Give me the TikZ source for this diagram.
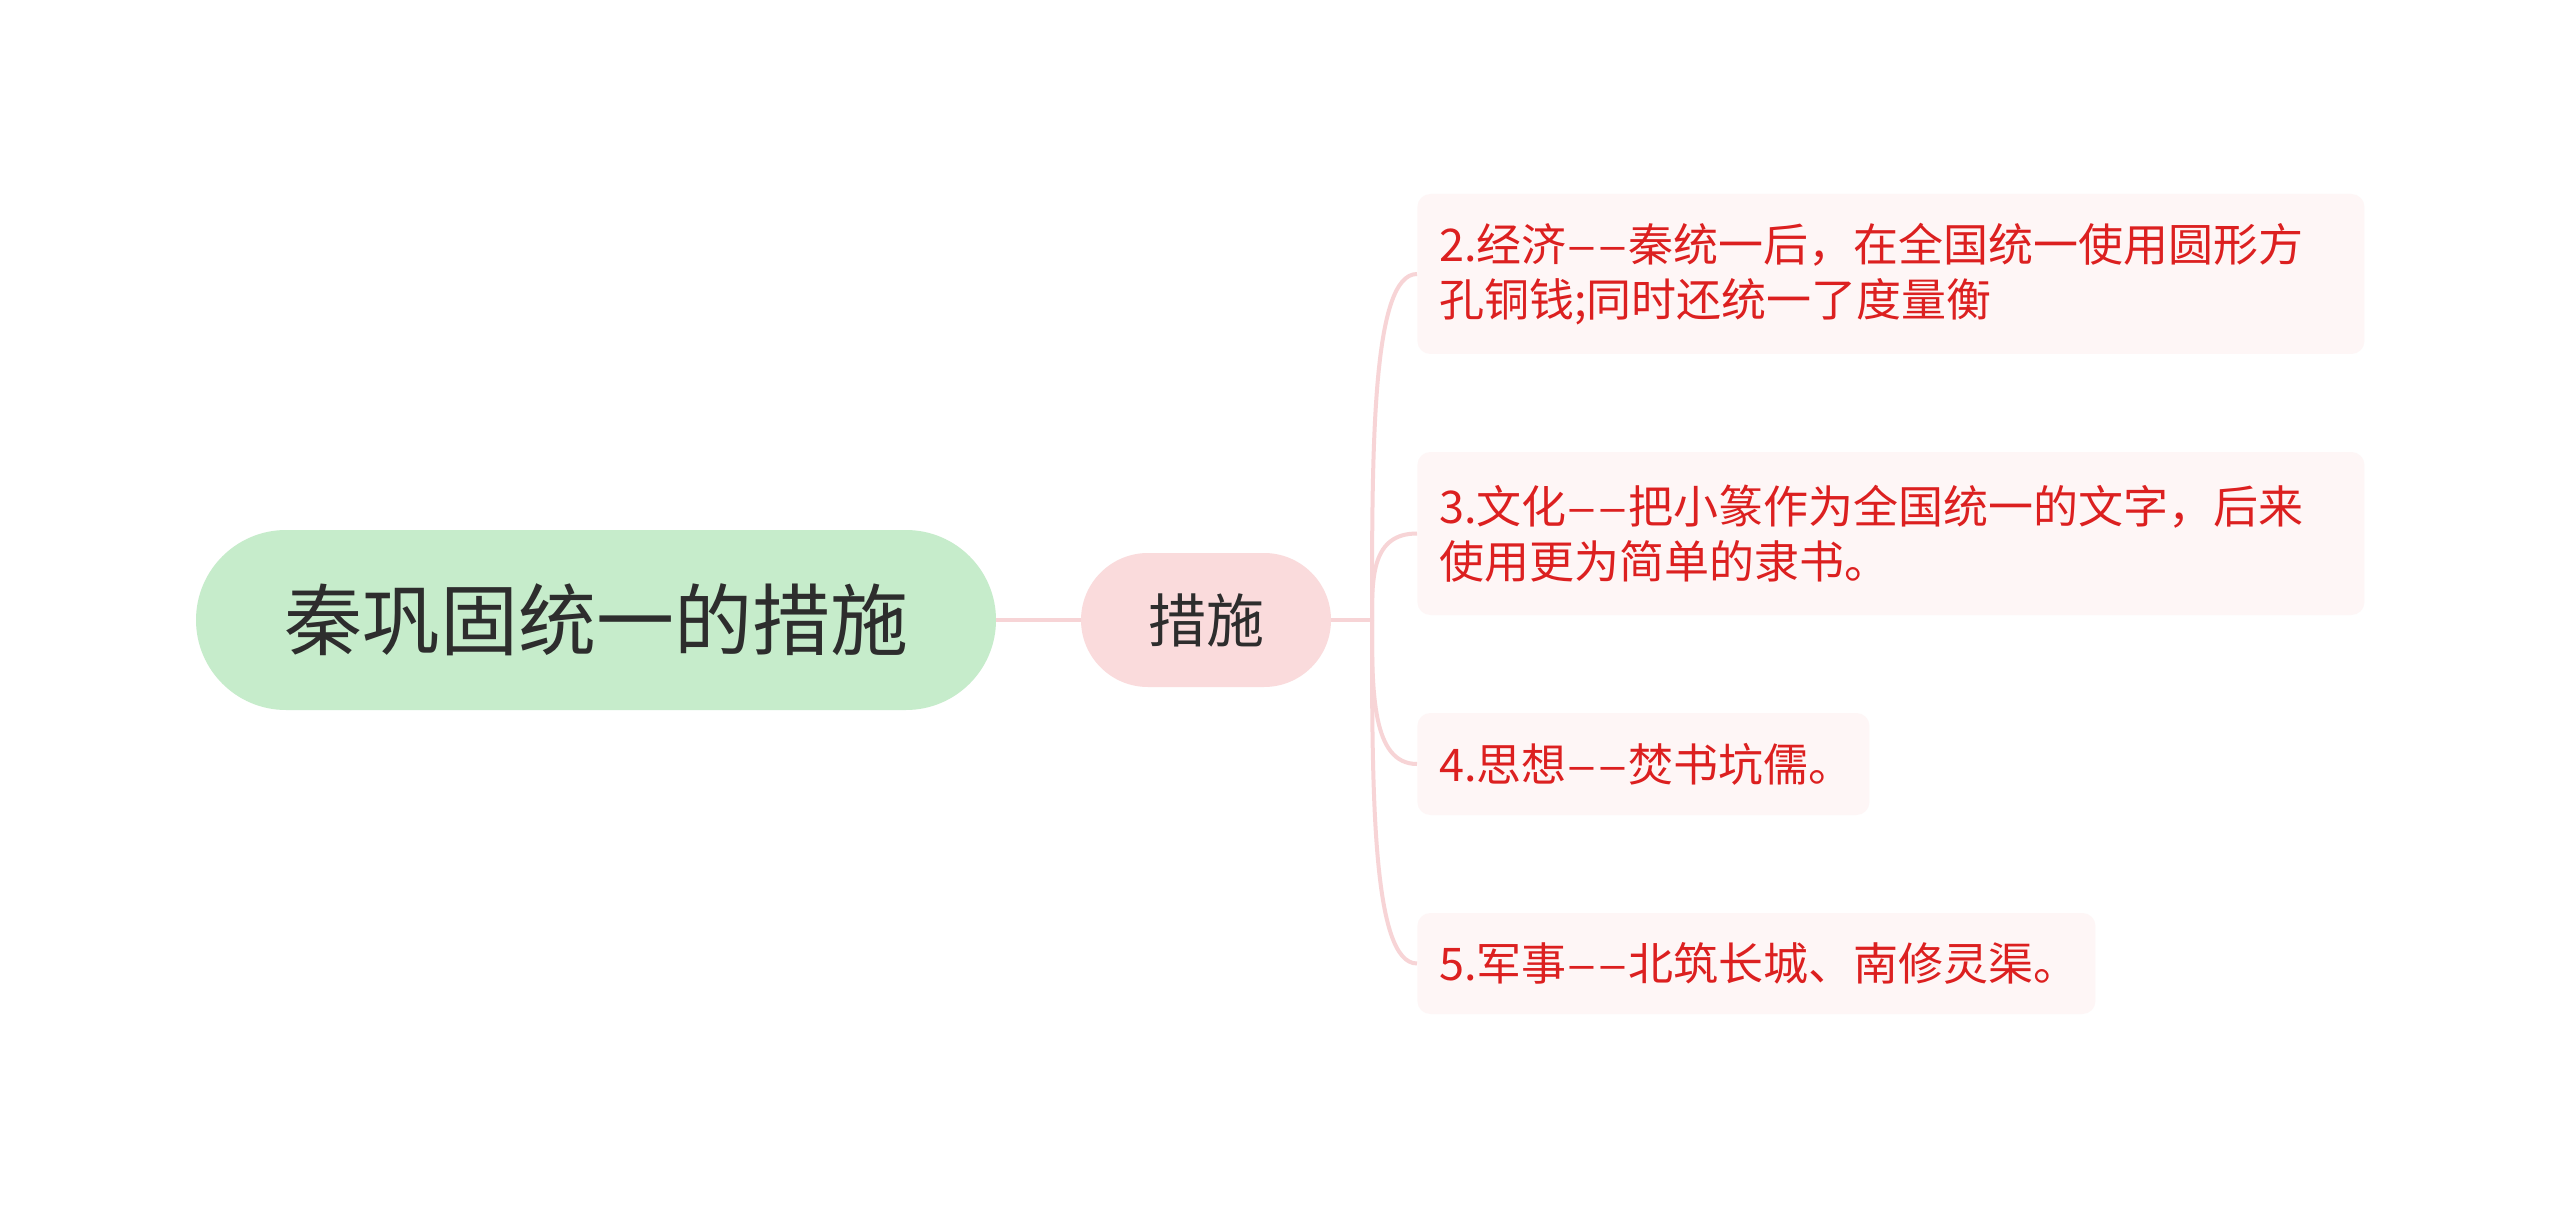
\documentclass[tikz,border=0pt]{standalone}
\usepackage{fontspec}
\usepackage{graphicx}
\newfontfamily\cjk{Noto Sans CJK SC}
\usetikzlibrary{calc}
\definecolor{rootfill}{RGB}{198,236,203}
\definecolor{subfill}{RGB}{250,219,220}
\definecolor{leaffill}{RGB}{254,246,246}
\definecolor{leaftext}{RGB}{220,32,32}
\definecolor{darktext}{RGB}{45,45,45}
\definecolor{linkc}{RGB}{247,212,214}
\newcommand\twodash{\makebox[0.68em]{\scalebox{1.2}[1]{–}}\makebox[0.68em]{\scalebox{1.2}[1]{–}}}
\begin{document}
\begin{tikzpicture}[x=0.5pt,y=-0.5pt,
  rootnode/.style={rectangle, rounded corners=45pt, fill=rootfill, text=darktext,
    minimum width=400pt, minimum height=90pt, inner sep=0pt,
    font=\cjk\fontsize{39}{46}\selectfont},
  subnode/.style={rectangle, rounded corners=33.5pt, fill=subfill, text=darktext,
    minimum width=125pt, minimum height=67pt, inner sep=0pt,
    font=\cjk\fontsize{29}{35}\selectfont},
  leaf/.style={rectangle, rounded corners=6.5pt, fill=leaffill, text=leaftext,
    anchor=west, inner xsep=11pt, inner ysep=0pt, align=left,
    font=\cjk\fontsize{22.5}{27.5}\selectfont},
  link/.style={draw=linkc, line width=2pt}]
\useasboundingbox[fill=white] (0,0) rectangle (2560,1209);

\node[rootnode] (root) at (596,620) {秦巩固统一的措施};
\node[subnode] (cs) at (1206,620) {措施};

\node[leaf, text width=451.5pt, minimum height=80pt] (c1) at (1417,274)
  {2.经济\twodash 秦统一后，在全国统一使用圆形方\\孔铜钱;同时还统一了度量衡};
\node[leaf, text width=451.5pt, minimum height=81.5pt] (c2) at (1417,533.5)
  {3.文化\twodash 把小篆作为全国统一的文字，后来\\使用更为简单的隶书。};
\node[leaf, text width=204pt, minimum height=51pt] (c3) at (1417,764)
  {4.思想\twodash 焚书坑儒。};
\node[leaf, text width=317pt, minimum height=50.5pt] (c4) at (1417,963.5)
  {5.军事\twodash 北筑长城、南修灵渠。};

\coordinate (sp) at (1372,620);
\draw[link] (root.east) -- (cs.west);
\draw[link] (cs.east) -- (sp);
\foreach \c in {c1,c2,c3,c4}
  \draw[link] (sp) .. controls ($(sp)!0.5!(sp |- \c.west)$) and (sp |- \c.west) .. (\c.west);
\end{tikzpicture}
\end{document}
